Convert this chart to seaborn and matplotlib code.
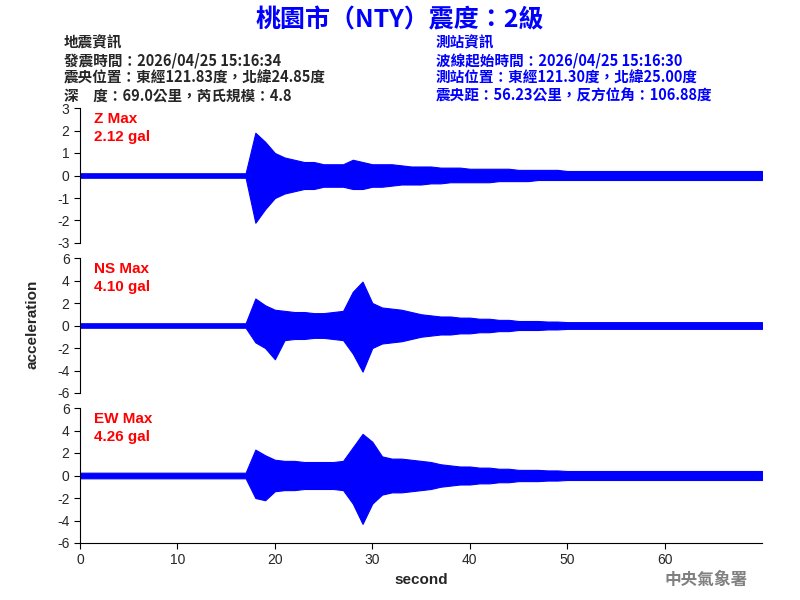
import numpy as np
import pandas as pd
import matplotlib
matplotlib.use("Agg")
import matplotlib.pyplot as plt
import seaborn as sns

sns.set_style("ticks")
plt.rcParams['font.family'] = ['Noto Sans CJK TC', 'DejaVu Sans']
plt.rcParams['axes.unicode_minus'] = False

# envelope of each trace, one value per second
seconds = list(range(0, 71))
z_up = [0.1]*18 + [1.9, 1.5, 1.0, 0.8, 0.7, 0.6, 0.6, 0.5, 0.5, 0.5, 0.7, 0.6, 0.5, 0.5, 0.5, 0.45, 0.4, 0.4, 0.4, 0.35, 0.35, 0.35,
                   0.3, 0.3, 0.3, 0.3, 0.3, 0.25, 0.25, 0.25, 0.25, 0.25] + [0.2]*21
z_lo = [-0.1]*18 + [-2.1, -1.5, -1.0, -0.8, -0.7, -0.6, -0.6, -0.5, -0.5, -0.5, -0.6, -0.6, -0.5, -0.5, -0.45, -0.4, -0.4, -0.4, -0.35, -0.35, -0.3, -0.3,
                    -0.3, -0.3, -0.3, -0.25, -0.25, -0.25, -0.25, -0.2, -0.2, -0.2] + [-0.2]*21
ns_up = [0.2]*18 + [2.4, 1.8, 1.4, 1.3, 1.2, 1.2, 1.1, 1.1, 1.2, 1.3, 3.0, 3.9, 2.0, 1.6, 1.5, 1.4, 1.2, 1.0, 0.9, 0.8, 0.8, 0.7,
                    0.7, 0.6, 0.6, 0.5, 0.5, 0.4, 0.4, 0.4, 0.35, 0.35] + [0.3]*21
ns_lo = [-0.2]*18 + [-1.5, -2.0, -3.0, -1.3, -1.2, -1.2, -1.1, -1.1, -1.2, -1.3, -2.5, -4.1, -2.0, -1.6, -1.5, -1.4, -1.2, -1.0, -0.9, -0.8, -0.8, -0.7,
                     -0.7, -0.6, -0.6, -0.5, -0.5, -0.4, -0.4, -0.4, -0.35, -0.35] + [-0.3]*21
ew_up = [0.25]*18 + [2.3, 1.8, 1.4, 1.3, 1.3, 1.2, 1.2, 1.2, 1.2, 1.3, 2.5, 3.7, 3.0, 1.7, 1.5, 1.5, 1.4, 1.3, 1.2, 1.0, 0.9, 0.8,
                     0.8, 0.7, 0.7, 0.6, 0.6, 0.5, 0.5, 0.5, 0.45, 0.45] + [0.4]*21
ew_lo = [-0.25]*18 + [-2.0, -2.2, -1.4, -1.3, -1.3, -1.2, -1.2, -1.2, -1.2, -1.3, -2.5, -4.3, -2.5, -1.7, -1.5, -1.5, -1.4, -1.3, -1.2, -1.0, -0.9, -0.8,
                      -0.8, -0.7, -0.7, -0.6, -0.6, -0.5, -0.5, -0.5, -0.45, -0.45] + [-0.4]*21
labels = ["Z Max\n2.12 gal", "NS Max\n4.10 gal", "EW Max\n4.26 gal"]
ylims = [3, 6, 6]
ysteps = [1, 2, 2]

num_font = "Liberation Sans"
fig = plt.figure(figsize=(8, 6), dpi=100)
boxes = [[0.1, 0.595, 0.8525, 0.225], [0.1, 0.345, 0.8525, 0.225], [0.1, 0.095, 0.8525, 0.225]]
traces = [(z_up, z_lo), (ns_up, ns_lo), (ew_up, ew_lo)]
for i, (box, (up, lo)) in enumerate(zip(boxes, traces)):
    ax = fig.add_axes(box)
    df = pd.DataFrame({"t": seconds, "up": up, "lo": lo})
    ax.fill_between(df.t, df.lo, df.up, color="blue", lw=0.8)
    sns.lineplot(x=[0, 70], y=[0, 0], color="blue", lw=1.2, ax=ax)
    lim = ylims[i]
    ax.set_ylim(-lim, lim)
    ax.set_yticks(np.arange(-lim, lim + 1, ysteps[i]))
    ax.set_xlim(0, 70)
    ax.set_xticks(range(0, 70, 10))
    ax.tick_params(labelsize=10, length=4, direction="out", color="black")
    for lab in ax.get_xticklabels() + ax.get_yticklabels():
        lab.set_family(num_font)
    sns.despine(ax=ax, top=True, right=True, bottom=(i < 2))
    for s in ax.spines.values():
        s.set_color("black")
    if i < 2:
        ax.set_xticks([])
    ax.set_xlabel("second" if i == 2 else "", fontsize=11, fontweight="bold", family=num_font)
    ax.set_ylabel("")
    ax.text(0.02, 0.97, labels[i], transform=ax.transAxes, color="red", fontsize=11,
            va="top", family=num_font, fontweight="bold", linespacing=1.4)

fig.text(0.5, 0.967, "桃園市（NTY）震度：2級", color="blue", fontsize=18, fontweight="bold", ha="center", va="center")
left = "地震資訊\n發震時間：2026/04/25 15:16:34\n震央位置：東經121.83度，北緯24.85度\n深　度：69.0公里，芮氏規模：4.8"
right = "測站資訊\n波線起始時間：2026/04/25 15:16:30\n測站位置：東經121.30度，北緯25.00度\n震央距：56.23公里，反方位角：106.88度"
fig.text(0.08, 0.942, left, fontsize=10.5, va="top", linespacing=1.12, fontweight="bold")
fig.text(0.545, 0.942, right, fontsize=10.5, va="top", linespacing=1.12, color="blue", fontweight="bold")
fig.text(0.032, 0.46, "acceleration", rotation=90, fontsize=11, fontweight="bold", va="center", family=num_font)
fig.text(0.935, 0.025, "中央氣象署", color="gray", fontsize=12, fontweight="bold", ha="right")
fig.savefig("out.png", dpi=100)
